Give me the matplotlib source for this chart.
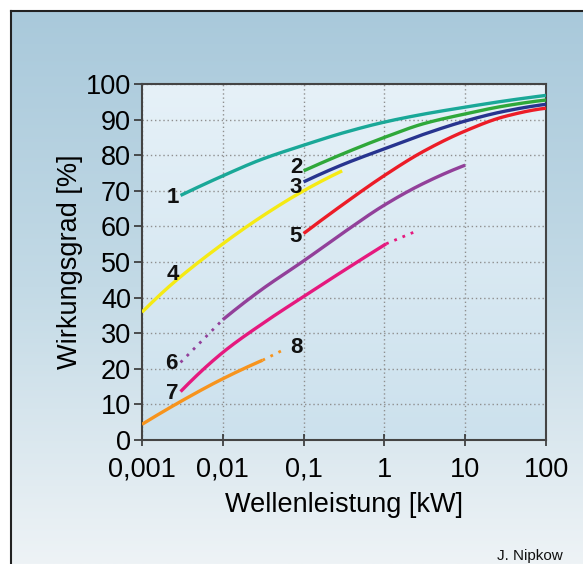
import numpy as np
import matplotlib
matplotlib.use("Agg")
import matplotlib.pyplot as plt
from matplotlib.colors import LinearSegmentedColormap

plt.rcParams['font.family'] = ['Liberation Sans', 'DejaVu Sans']

# ---- data ----
x1 = [0.003, 0.01, 0.03, 0.1, 0.3, 1, 3, 10, 30, 100]
y1 = [68.7, 74.2, 78.8, 82.8, 86.2, 89.3, 91.5, 93.5, 95.2, 96.8]

x2 = [0.1, 0.3, 1, 3, 10, 30, 100]
y2 = [75.6, 80.3, 85.0, 88.8, 91.6, 93.8, 95.5]

x3 = [0.1, 0.3, 1, 3, 10, 30, 100]
y3 = [72.5, 77.3, 81.8, 85.8, 89.6, 92.3, 94.3]

x4 = [0.001, 0.0024, 0.01, 0.03, 0.1, 0.3]
y4 = [35.9, 44.0, 55.1, 62.7, 70.0, 75.6]

x5 = [0.1, 0.3, 1, 3, 10, 30, 100]
y5 = [58.0, 66.0, 74.3, 81.0, 86.8, 90.8, 93.2]

x6 = [0.01, 0.03, 0.1, 0.3, 1, 3, 10]
y6 = [33.8, 42.2, 50.3, 58.0, 66.0, 72.0, 77.2]
x6_dot = [0.003, 0.01]
y6_dot = [21.8, 33.8]

x7 = [0.003, 0.01, 0.035, 0.1, 0.3, 1.05]
y7 = [13.6, 24.6, 33.5, 40.3, 47.3, 55.1]
x7_dot = [1.05, 2.5]
y7_dot = [55.1, 58.7]

x8 = [0.001, 0.003, 0.01, 0.031]
y8 = [4.4, 10.8, 17.2, 22.4]
x8_dot = [0.031, 0.056]
y8_dot = [22.4, 25.3]

curve_labels = ["1", "2", "3", "4", "5", "6", "7", "8"]
label_x = [0.00242, 0.0805, 0.0805, 0.00242, 0.0805, 0.00228, 0.00235, 0.0805]
label_y = [68.2, 76.6, 71.0, 46.5, 57.2, 21.4, 13.2, 25.9]

xticks = [0.001, 0.01, 0.1, 1, 10, 100]
xticklabels = ["0,001", "0,01", "0,1", "1", "10", "100"]
yticks = list(range(0, 101, 10))

colors = {
    1: "#1aa898", 2: "#2fa83a", 3: "#27348f", 4: "#f5ea14",
    5: "#ec1c27", 6: "#92409a", 7: "#e5197e", 8: "#f7941d",
}


def smooth(xs, ys, n=200):
    """Monotone cubic (PCHIP) drawing path through the read points, in log-x."""
    lx = np.log10(np.asarray(xs, float))
    y = np.asarray(ys, float)
    if len(lx) < 3:
        return xs, ys
    h = np.diff(lx)
    d = np.diff(y) / h
    m = np.zeros_like(y)
    for k in range(1, len(y) - 1):
        if d[k - 1] * d[k] <= 0:
            m[k] = 0
        else:
            w1 = 2 * h[k] + h[k - 1]
            w2 = h[k] + 2 * h[k - 1]
            m[k] = (w1 + w2) / (w1 / d[k - 1] + w2 / d[k])
    m[0] = ((2 * h[0] + h[1]) * d[0] - h[0] * d[1]) / (h[0] + h[1])
    if np.sign(m[0]) != np.sign(d[0]):
        m[0] = 0
    m[-1] = ((2 * h[-1] + h[-2]) * d[-1] - h[-1] * d[-2]) / (h[-1] + h[-2])
    if np.sign(m[-1]) != np.sign(d[-1]):
        m[-1] = 0
    t = np.linspace(lx[0], lx[-1], n)
    idx = np.clip(np.searchsorted(lx, t) - 1, 0, len(lx) - 2)
    hh = h[idx]
    s = (t - lx[idx]) / hh
    h00 = 2 * s**3 - 3 * s**2 + 1
    h10 = s**3 - 2 * s**2 + s
    h01 = -2 * s**3 + 3 * s**2
    h11 = s**3 - s**2
    yy = h00 * y[idx] + h10 * hh * m[idx] + h01 * y[idx + 1] + h11 * hh * m[idx + 1]
    return 10 ** t, yy


W, H = 583, 564
fig = plt.figure(figsize=(W / 100, H / 100), dpi=100)
fig.patch.set_facecolor("white")

# background panel with gradient
bg = fig.add_axes([11 / W, 0, 1 - 11 / W, (H - 11) / H], zorder=-5)
bg_cmap = LinearSegmentedColormap.from_list("bg", ["#a9c9db", "#c3dae6", "#eef3f6"])
grad = np.linspace(0, 1, 256).reshape(-1, 1)
bg.imshow(grad, cmap=bg_cmap, aspect="auto", extent=[0, 1, 0, 1], origin="upper")
bg.set_xlim(0, 1); bg.set_ylim(0, 1)
bg.set_xticks([]); bg.set_yticks([])
for s in ["right", "bottom"]:
    bg.spines[s].set_visible(False)
for s in ["left", "top"]:
    bg.spines[s].set_color("#222222")
    bg.spines[s].set_linewidth(1.5)

# main axes
ax = fig.add_axes([142 / W, (H - 440) / H, 404 / W, 356 / H])
ax_cmap = LinearSegmentedColormap.from_list("ax", ["#e6f1f8", "#cce1ed"])
ax.imshow(grad, cmap=ax_cmap, aspect="auto", extent=[0, 1, 0, 1],
          origin="upper", transform=ax.transAxes, zorder=0)
ax.set_xscale("log")
ax.set_xlim(0.001, 100)
ax.set_ylim(0, 100)

ax.grid(True, which="major", color="#8f8f8f", linestyle=(0, (1, 2)), linewidth=1.0, zorder=1)

lw = 2.4
dot_style = (0, (1, 2.2))
for i, (xs, ys) in enumerate([(x1, y1), (x2, y2), (x3, y3), (x4, y4),
                              (x5, y5), (x6, y6), (x7, y7), (x8, y8)], start=1):
    sx, sy = smooth(xs, ys)
    ax.plot(sx, sy, color=colors[i], lw=lw, solid_capstyle="butt", zorder=3)

ax.plot(x6_dot, y6_dot, color=colors[6], lw=2, linestyle=dot_style, zorder=3)
ax.plot(x7_dot, y7_dot, color=colors[7], lw=2, linestyle=dot_style, zorder=3)
ax.plot(x8_dot, y8_dot, color=colors[8], lw=2, linestyle=dot_style, zorder=3)

for t, lx, ly in zip(curve_labels, label_x, label_y):
    ax.text(lx, ly, t, fontsize=16, fontweight="bold", color="#111111",
            ha="center", va="center", zorder=4)

ax.set_xticks(xticks)
ax.set_xticklabels(xticklabels)
ax.set_yticks(yticks)
ax.tick_params(axis="both", which="major", labelsize=19.5, colors="#333333",
               labelcolor="black", length=6, width=1.2)
ax.tick_params(axis="x", which="major", direction="inout", length=8, pad=8)
ax.tick_params(axis="y", which="major", direction="out", pad=2)
ax.tick_params(axis="x", which="minor", direction="in", length=3, width=1, colors="#333333")
ax.tick_params(axis="y", which="minor", left=False)

for s in ax.spines.values():
    s.set_color("#444444")
    s.set_linewidth(1.5)

ax.set_xlabel("Wellenleistung [kW]", fontsize=19.5, labelpad=7)
ax.set_ylabel("Wirkungsgrad [%]", fontsize=19.5, labelpad=2)

fig.text(497 / W, 1 - 556 / H, "J. Nipkow", fontsize=11, ha="left", va="center", color="#111111")

fig.savefig("out.png", dpi=100)
